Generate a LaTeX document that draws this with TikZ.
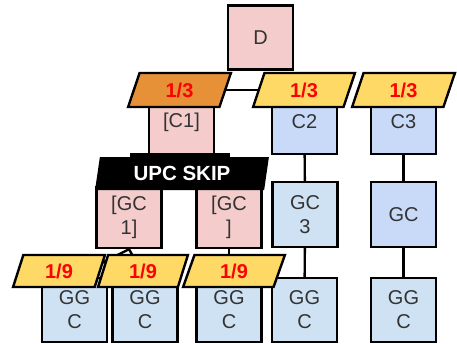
\documentclass[tikz,border=0pt]{standalone}
\usepackage{fontspec}
\setmainfont{Liberation Sans}
\usepackage{tikz}
\usetikzlibrary{shapes.geometric, backgrounds}
\definecolor{cPink}{HTML}{F4CCCC}
\definecolor{cBlue}{HTML}{C9DAF8}
\definecolor{cSky}{HTML}{CFE2F3}
\definecolor{cOrange}{HTML}{E69138}
\definecolor{cYellow}{HTML}{FFD966}
\definecolor{cText}{HTML}{333333}
\tikzset{
	cbox/.style ={rectangle, draw=black, line width=2.4pt, minimum width=65pt, minimum height=64pt, inner sep=0pt, align=center, text=cText, font=\fontsize{20}{24}\selectfont},
	tag/.style  ={trapezium, trapezium left angle=75, trapezium right angle=105, trapezium stretches=true, draw=black, line width=2.4pt, fill=cYellow, minimum height=34pt, inner sep=0pt, text=red, font=\fontsize{20}{22}\selectfont\bfseries},
	skip/.style ={trapezium, trapezium left angle=79, trapezium right angle=101, trapezium stretches=true, fill=black, minimum width=174pt, minimum height=33pt, inner sep=0pt, text=white, font=\fontsize{20.5}{22}\selectfont\bfseries},
	link/.style ={draw=black, line width=2.4pt},
}
\begin{document}
\begin{tikzpicture}[x=1pt, y=-1pt]
	\useasboundingbox (0,0) rectangle (457,343);
	\node[cbox, fill=cPink] (d) at (260.5,37.5) {D};
	\node[cbox, fill=cPink] (c1) at (181.5,122) {[C1]};
	\node[cbox, fill=cBlue] (c2) at (304.5,122) {C2};
	\node[cbox, fill=cBlue] (c3) at (403.5,122) {C3};
	\node[cbox, fill=cPink, minimum height=61pt] (gc1) at (129,217.5) {[GC\\ 1]};
	\node[cbox, fill=cPink, minimum height=61pt] (gc2) at (229,217.5) {[GC\\ ]};
	\node[cbox, fill=cSky, minimum height=65pt] (gc3) at (305,214.5) {GC\\ 3};
	\node[cbox, fill=cBlue, minimum height=65pt] (gc4) at (403.5,214.5) {GC};
	\node[cbox, fill=cSky] (ggc1) at (74.5,310) {GG\\ C};
	\node[cbox, fill=cSky] (ggc2) at (145,310) {GG\\ C};
	\node[cbox, fill=cSky] (ggc3) at (229,310) {GG\\ C};
	\node[cbox, fill=cSky] (ggc4) at (304.5,310) {GG\\ C};
	\node[cbox, fill=cSky] (ggc5) at (403.5,310) {GG\\ C};
	\node[tag, fill=cOrange, minimum width=103pt] (t1) at (179.5,90) {1/3};
	\node[tag, minimum width=102pt] (t2) at (304,90) {1/3};
	\node[tag, minimum width=103pt] (t3) at (403.5,90) {1/3};
	\node[fill=black, minimum width=100pt, minimum height=8pt, inner sep=0pt] (bar) at (180,157) {};
	\node[skip] (upc) at (182,173.5) {UPC SKIP};
	\node[tag, minimum width=92pt, minimum height=32pt] (g1) at (59,271) {1/9};
	\node[tag, minimum width=90pt, minimum height=32pt] (g2) at (143,271) {1/9};
	\node[tag, minimum width=102pt, minimum height=32pt] (g3) at (234,271) {1/9};
	\begin{scope}[on background layer]
		\draw[link] (t1) -- (t2);
		\draw[link] (c2) -- (gc3);
		\draw[link] (gc3) -- (ggc4);
		\draw[link] (c3) -- (gc4);
		\draw[link] (gc4) -- (ggc5);
		\draw[link] (gc1.south) -- (ggc1.north);
		\draw[link] (gc1.south) -- (ggc2.north);
		\draw[link] (gc2) -- (ggc3);
	\end{scope}
\end{tikzpicture}
\end{document}
